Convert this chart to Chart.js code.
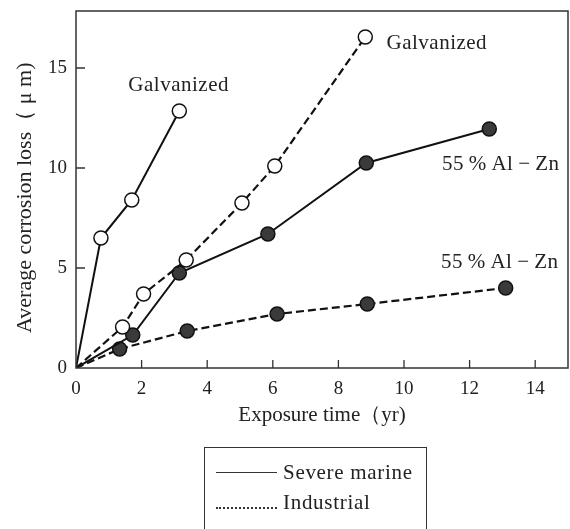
<!DOCTYPE html>
<html>
<head>
<meta charset="utf-8">
<script src="https://cdn.jsdelivr.net/npm/chart.js@4.4.1/dist/chart.umd.min.js"></script>
<style>
    body { margin: 0; background: #fff; }
    #wrap { position: relative; width: 570px; height: 529px; }
    #legendBox {
        position: absolute; left: 204px; top: 447px; width: 223px; height: 84px;
        border: 1.5px solid #333; box-sizing: border-box;
        font-family: "Liberation Serif", "DejaVu Serif", serif; font-size: 21px; color: #222;
        letter-spacing: 0.7px;
    }
    .row { position: absolute; left: 11px; display: flex; align-items: center; }
    .sample { width: 61px; margin-right: 6px; }
    .solid { border-top: 1px solid #333; }
    .dotted { border-top: 2px dotted #333; margin-top: 10px; }
</style>
</head>
<body>
<div id="wrap">
    <canvas id="chart" width="570" height="529"></canvas>
    <div id="legendBox">
        <div class="row" style="top: 12px;"><span class="sample solid"></span>Severe marine</div>
        <div class="row" style="top: 42px;"><span class="sample dotted"></span>Industrial</div>
    </div>
</div>
<script>
    // ===============================
    // DATA (exposure time in yr, loss in µm)
    // ===============================
    const galvMarineX = [0, 0.76, 1.7, 3.15];
    const galvMarineY = [0, 6.5, 8.4, 12.85];

    const galvIndustrialX = [0, 1.42, 2.06, 3.36, 5.06, 6.06, 8.82];
    const galvIndustrialY = [0, 2.05, 3.7, 5.4, 8.25, 10.1, 16.55];

    const alznMarineX = [0, 1.73, 3.15, 5.85, 8.85, 12.6];
    const alznMarineY = [0, 1.65, 4.75, 6.7, 10.25, 11.95];

    const alznIndustrialX = [0, 1.33, 3.39, 6.13, 8.88, 13.1];
    const alznIndustrialY = [0, 0.95, 1.85, 2.7, 3.2, 4.0];

    const xTicks = [0, 2, 4, 6, 8, 10, 12, 14];
    const yTicks = [0, 5, 10, 15];

    const noteTexts = ["Galvanized", "Galvanized", "55\u2009%\u2009Al\u2009\u2212\u2009Zn", "55\u2009%\u2009Al\u2009\u2212\u2009Zn"];
    const noteX = [3.13, 11.0, 12.95, 12.92];
    const noteY = [14.15, 16.25, 10.2, 5.3];

    const FONT = "'Liberation Serif', 'DejaVu Serif', serif";
    const INK = "#222";

    const toPoints = (xs, ys) => xs.map((x, i) => ({ x: x, y: ys[i] }));
    const radius = ctx => ctx.dataIndex === 0 ? 0 : 7;

    function series(xs, ys, filled, dashed) {
        return {
            data: toPoints(xs, ys),
            showLine: true,
            borderColor: "#111",
            borderWidth: dashed ? 2.2 : 2,
            borderDash: dashed ? [8, 4] : [],
            pointRadius: radius,
            pointHoverRadius: radius,
            pointBackgroundColor: filled ? "#3a3a3a" : "#fff",
            pointBorderColor: "#111",
            pointBorderWidth: 1.5
        };
    }

    // ===============================
    // FRAME, INWARD TICKS, NOTES
    // ===============================
    const framePlugin = {
        id: "frame",
        afterDatasetsDraw(chart) {
            const { ctx, chartArea: a, scales } = chart;
            ctx.save();
            ctx.strokeStyle = "#333";
            ctx.lineWidth = 1.5;
            ctx.strokeRect(a.left, a.top, a.right - a.left, a.bottom - a.top);

            ctx.lineWidth = 1.3;
            ctx.beginPath();
            xTicks.forEach(v => {
                if (v === 0) return;
                const px = scales.x.getPixelForValue(v);
                ctx.moveTo(px, a.bottom);
                ctx.lineTo(px, a.bottom - 8);
            });
            yTicks.forEach(v => {
                if (v === 0) return;
                const py = scales.y.getPixelForValue(v);
                ctx.moveTo(a.left, py);
                ctx.lineTo(a.left + 9, py);
            });
            ctx.stroke();

            ctx.fillStyle = INK;
            ctx.font = "21px " + FONT;
            ctx.letterSpacing = "0.5px";
            ctx.textAlign = "center";
            ctx.textBaseline = "middle";
            noteTexts.forEach((t, i) => {
                ctx.fillText(t, scales.x.getPixelForValue(noteX[i]), scales.y.getPixelForValue(noteY[i]));
            });
            ctx.restore();
        }
    };

    new Chart(document.getElementById("chart"), {
        type: "scatter",
        data: {
            datasets: [
                series(galvMarineX, galvMarineY, false, false),
                series(galvIndustrialX, galvIndustrialY, false, true),
                series(alznMarineX, alznMarineY, true, false),
                series(alznIndustrialX, alznIndustrialY, true, true)
            ]
        },
        options: {
            responsive: false,
            animation: false,
            layout: { autoPadding: false, padding: { top: 11, right: 2, left: 0, bottom: 0 } },
            plugins: { legend: { display: false }, tooltip: { enabled: false } },
            scales: {
                x: {
                    type: "linear", min: 0, max: 15,
                    afterBuildTicks: s => { s.ticks = xTicks.map(v => ({ value: v })); },
                    afterFit: s => { s.height = 161; s.paddingLeft = 0; s.paddingRight = 0; },
                    grid: { display: false, drawTicks: false },
                    border: { display: false },
                    ticks: { color: INK, padding: 10, font: { family: FONT, size: 19 }, maxRotation: 0 },
                    title: {
                        display: true, text: "Exposure time\uFF08yr)",
                        color: INK, font: { family: FONT, size: 21 },
                        padding: { top: 0, bottom: 101 }
                    }
                },
                y: {
                    type: "linear", min: 0, max: 17.85,
                    afterBuildTicks: s => { s.ticks = yTicks.map(v => ({ value: v })); },
                    afterFit: s => { s.width = 76; s.paddingTop = 0; s.paddingBottom = 0; },
                    grid: { display: false, drawTicks: false },
                    border: { display: false },
                    ticks: { color: INK, padding: 9, font: { family: FONT, size: 19 } },
                    title: {
                        display: true, text: "Average corrosion loss\uFF08 \u03BC m)   ",
                        color: INK, font: { family: FONT, size: 22 },
                        padding: { top: 12, bottom: 0 }
                    }
                }
            }
        },
        plugins: [framePlugin]
    });
</script>
</body>
</html>
